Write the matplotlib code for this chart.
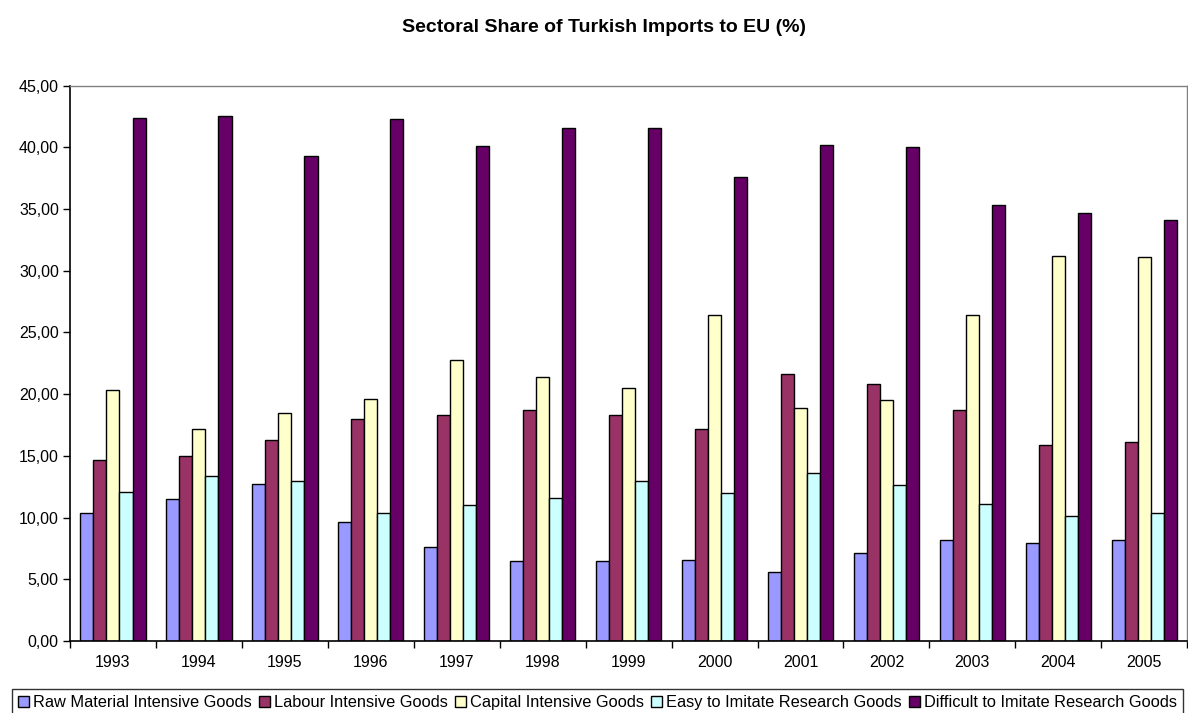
import matplotlib.pyplot as plt
import numpy as np
from matplotlib.ticker import FuncFormatter

plt.rcParams['font.family'] = ['Liberation Sans', 'DejaVu Sans']

years = ['1993', '1994', '1995', '1996', '1997', '1998', '1999',
         '2000', '2001', '2002', '2003', '2004', '2005']

series_names = ['Raw Material Intensive Goods', 'Labour Intensive Goods',
                'Capital Intensive Goods', 'Easy to Imitate Research Goods',
                'Difficult to Imitate Research Goods']

raw_material = [10.4, 11.5, 12.7, 9.6, 7.6, 6.5, 6.5, 6.6, 5.6, 7.1, 8.2, 7.9, 8.2]
labour = [14.7, 15.0, 16.3, 18.0, 18.3, 18.7, 18.3, 17.2, 21.6, 20.8, 18.7, 15.9, 16.1]
capital = [20.3, 17.2, 18.5, 19.6, 22.8, 21.4, 20.5, 26.4, 18.9, 19.5, 26.4, 31.2, 31.1]
easy_research = [12.1, 13.4, 13.0, 10.4, 11.0, 11.6, 13.0, 12.0, 13.6, 12.6, 11.1, 10.1, 10.4]
difficult_research = [42.4, 42.5, 39.3, 42.3, 40.1, 41.6, 41.6, 37.6, 40.2, 40.0, 35.3, 34.7, 34.1]

colors = ['#9999FF', '#993366', '#FFFFCC', '#CCFFFF', '#660066']

fig = plt.figure(figsize=(11.88, 7.13), dpi=100)
ax = fig.add_axes([0.0589, 0.101, 0.9405, 0.779])

x = np.arange(len(years))
w = 0.152
all_series = [raw_material, labour, capital, easy_research, difficult_research]
for i, (vals, name, c) in enumerate(zip(all_series, series_names, colors)):
    ax.bar(x + (i - 2) * w, vals, width=w, color=c, edgecolor='black',
           linewidth=1.0, label=name)

ax.set_xlim(-0.5, len(years) - 0.5)
ax.set_ylim(0, 45)
ax.set_yticks(np.arange(0, 46, 5))
ax.yaxis.set_major_formatter(FuncFormatter(lambda v, p: f'{v:.2f}'.replace('.', ',')))
ax.set_xticks(x)
ax.set_xticklabels(years)
ax.set_xticks(np.arange(-0.5, len(years)), minor=True)
ax.tick_params(axis='x', which='major', length=0, pad=10, labelsize=11.5)
ax.tick_params(axis='x', which='minor', length=5, width=1, direction='out')
ax.tick_params(axis='y', length=5, width=1, direction='out', labelsize=11.5, pad=3)

for side in ['top', 'right']:
    ax.spines[side].set_color('#808080')
    ax.spines[side].set_linewidth(1)
for side in ['left', 'bottom']:
    ax.spines[side].set_color('black')
    ax.spines[side].set_linewidth(1.2)

fig.text(0.508, 0.961, 'Sectoral Share of Turkish Imports to EU (%)',
         ha='center', va='center', fontsize=14, fontweight='bold')

leg = fig.legend(loc='upper center', bbox_to_anchor=(0.503, 0.033), ncol=5,
                 fontsize=11.8, frameon=True, fancybox=False, edgecolor='black',
                 handlelength=0.7, handleheight=0.7, handletextpad=0.25,
                 columnspacing=0.4, borderpad=0.35, borderaxespad=0)
leg.get_frame().set_linewidth(1.0)

fig.savefig('out.png', dpi=100)
